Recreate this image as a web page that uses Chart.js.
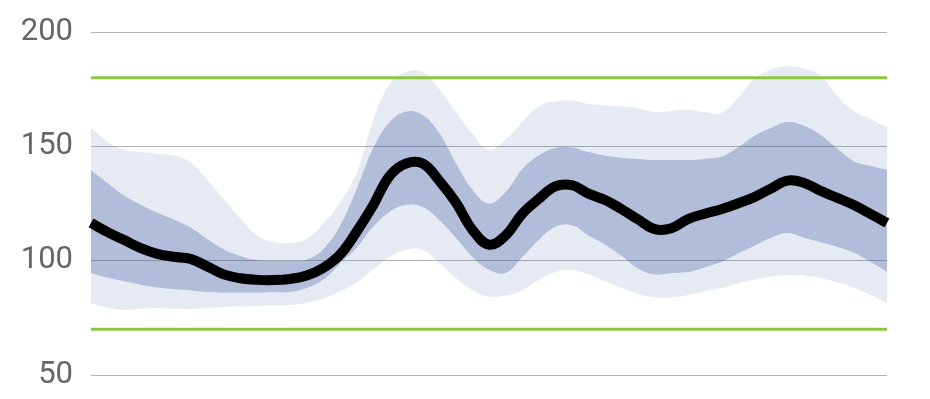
<!DOCTYPE html>
<html>
<head>
<meta charset="utf-8">
<script src="https://cdn.jsdelivr.net/npm/chart.js@4"></script>
<style>
  html, body { margin: 0; padding: 0; background: #fff; }
  #wrap { width: 930px; height: 399px; }
</style>
</head>
<body>
<div id="wrap"><canvas id="agpChart"></canvas></div>
<script>
const times = ['0:00','0:30','1:00','1:30','2:00','2:30','3:00','3:30','4:00','4:30','5:00','5:30',
  '6:00','6:30','7:00','7:30','8:00','8:30','9:00','9:30','10:00','10:30','11:00','11:30',
  '12:00','12:30','13:00','13:30','14:00','14:30','15:00','15:30','16:00','16:30','17:00','17:30',
  '18:00','18:30','19:00','19:30','20:00','20:30','21:00','21:30','22:00','22:30','23:00','23:30','24:00'];

const median = [116.5,112.5,109,105.5,103,101.7,100.8,97.5,94,92.3,91.6,91.5,
  92,93.5,96.8,102.5,112.5,124,137,142.5,142.5,135,125.5,113.5,
  107,111,120.5,127,132.5,133,129.3,126.5,122.5,118,113.8,114.2,
  118.2,120.5,122.5,125,127.8,131.5,135,134,130.5,127.5,124.3,120.5,116.5];

const p90 = [158,152,148.5,147.5,146.8,146,143,135.5,127,118.5,111,108,
  107.7,109.5,116,125,138,161,177,182.5,182.5,175,165,155.5,
  148.5,153,160.5,167.5,169.6,170,168.5,168,167.5,166.5,165,165.5,
  166,165,164.5,171,179.5,183.5,185,184,181,172,165.5,162,158.5];

const p75 = [139.7,134,128.5,124.5,121,118,114.5,109.5,105,102,100.3,100,
  100,100.5,105,115,131,149,160.5,165.2,163.7,155.8,142.7,131,
  125,130,140,146,149.3,149.5,147.5,146,145,144.5,144,144,
  144,144.5,145.5,149.5,154.5,158,160.6,159,155,149,143.5,141.5,139.7];

const p25 = [94.6,92.5,91,89.5,88.3,87.5,87,86.3,86,86,86,86.2,
  86.3,88,91.6,98.5,105.5,114.7,121.3,124.4,123.5,117.8,110,101.6,
  96,94.6,101.5,109,114.8,115.5,111,107,102,96.5,94,94.5,
  95,97,99.4,103,106.5,110,112,110,108,106,103.5,99.5,95];

const p10 = [81.5,79.5,78.4,79,79.3,79,78.9,79.3,79.8,80,80.2,80.4,
  80.6,81.5,83.5,86.5,90.5,96,101.6,104.7,104.7,99,92.4,87.2,
  84.3,84.8,87,91.5,95,95.8,94,91,88,85.5,84,84,
  85,86.5,88,90,91.8,93,93.7,93.5,92.4,90.5,88.3,85,81.5];

const targetHigh = times.map(() => 180);
const targetLow = times.map(() => 70);

const yTicks = [50, 100, 150, 200];

const lightBand = 'rgba(60, 90, 160, 0.13)';
const darkBand = 'rgba(60, 90, 160, 0.4)';
const green = '#8cc63f';

const ctx = document.getElementById('agpChart');

new Chart(ctx, {
  type: 'line',
  data: {
    labels: times,
    datasets: [
      { label: 'median', data: median, borderColor: '#000', borderWidth: 10, fill: false },
      { label: 'high', data: targetHigh, borderColor: green, borderWidth: 3, fill: false, tension: 0 },
      { label: 'low', data: targetLow, borderColor: green, borderWidth: 3, fill: false, tension: 0 },
      { label: 'p90', data: p90, borderWidth: 0, borderColor: 'transparent', backgroundColor: lightBand, fill: '+1' },
      { label: 'p75', data: p75, borderWidth: 0, borderColor: 'transparent', backgroundColor: darkBand, fill: '+1' },
      { label: 'p25', data: p25, borderWidth: 0, borderColor: 'transparent', backgroundColor: lightBand, fill: '+1' },
      { label: 'p10', data: p10, borderWidth: 0, borderColor: 'transparent', fill: false }
    ]
  },
  options: {
    responsive: true,
    maintainAspectRatio: false,
    animation: false,
    layout: { padding: { left: 0, right: 43, top: 32, bottom: 24 } },
    elements: {
      point: { radius: 0, hoverRadius: 0 },
      line: { tension: 0.4, borderCapStyle: 'butt' }
    },
    plugins: {
      legend: { display: false },
      tooltip: { enabled: false }
    },
    scales: {
      x: { display: false },
      y: {
        min: 50,
        max: 200,
        afterFit: (scale) => {
          scale.width = 91;
          scale.paddingTop = 0;
          scale.paddingBottom = 0;
        },
        afterBuildTicks: (scale) => { scale.ticks = yTicks.map(v => ({ value: v })); },
        border: { display: false },
        grid: { color: '#b4b4b4', lineWidth: 1, drawTicks: false },
        ticks: {
          padding: 18,
          color: '#666',
          font: { family: 'Roboto', size: 31 }
        }
      }
    }
  }
});
</script>
</body>
</html>
